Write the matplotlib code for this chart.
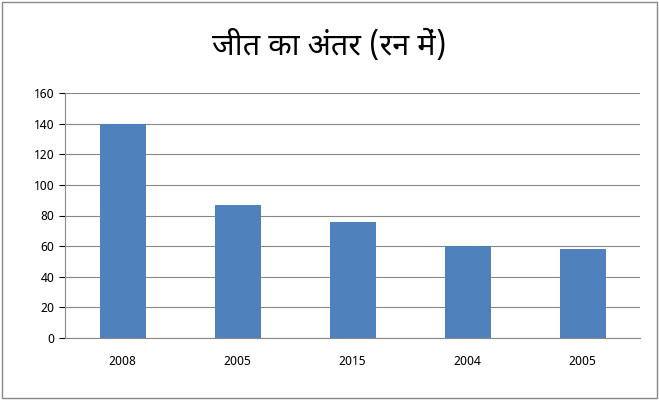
import matplotlib
matplotlib.use("Agg")
import matplotlib.pyplot as plt
from matplotlib.patches import Rectangle

title = "जीत का अंतर (रन में)"
categories = ["2008", "2005", "2015", "2004", "2005"]
values = [140, 87, 76, 60, 58]

plt.rcParams['font.family'] = ['Noto Sans Devanagari', 'Noto Sans', 'DejaVu Sans']
fig = plt.figure(figsize=(6.59, 4.0), dpi=100)
fig.patches.append(Rectangle((0.003, 0.005), 0.994, 0.99, transform=fig.transFigure,
                             fill=False, edgecolor='#888888', lw=1))
ax = fig.add_axes([65/659, 62/400, 575/659, 245/400])
x = range(len(values))
ax.bar(x, values, width=0.4, color='#4F81BD', zorder=3)
ax.set_xticks(list(x))
ax.set_xticklabels(categories, fontsize=9)
ax.set_xlim(-0.5, len(values) - 0.5)
ax.set_ylim(0, 160)
ax.set_yticks(range(0, 161, 20))
ax.tick_params(axis='y', labelsize=9, length=4)
ax.tick_params(axis='x', length=0, pad=12)
ax.grid(axis='y', color='#888888', lw=0.8, zorder=0)
for s in ['top', 'right']:
    ax.spines[s].set_visible(False)
ax.spines['left'].set_color('#888888')
ax.spines['bottom'].set_color('#888888')
fig.text(0.5, 0.885, title, ha='center', va='center', fontsize=22, fontweight='bold')
fig.savefig("out.png", dpi=100)
